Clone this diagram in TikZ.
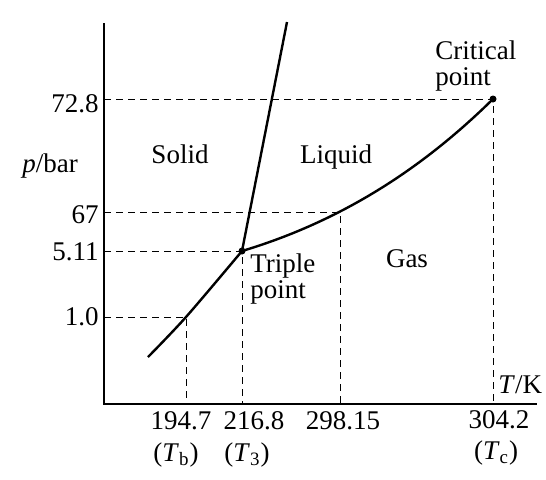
\documentclass[tikz,border=0pt]{standalone}
\usepackage{fontspec}
\setmainfont{Liberation Serif}
\usepackage{tikz}
\usetikzlibrary{positioning}

\begin{document}
\begin{tikzpicture}[
    x=0.5pt,y=-0.5pt,
    axis/.style={line width=0.7pt},
    curve/.style={line width=1.2pt},
    guide/.style={line width=0.5pt,dash pattern=on 3.5pt off 2.5pt},
    lbl/.style={inner sep=0pt,font=\fontsize{13.5}{13}\selectfont},
    dot/.style={circle,fill,inner sep=0pt,minimum size=3.5pt}
  ]
    \useasboundingbox (0,0) rectangle (546,479);
    % axes
    \coordinate (o) at (104,404);
    \coordinate (ytop) at (104,23);
    \coordinate (xend) at (537,404);
    \draw[axis] (ytop) -- (o) -- (xend);
    % points on the phase boundaries
    \coordinate (sb) at (148,357);
    \coordinate (tb) at (186,317);
    \coordinate (tp) at (242,251);
    \coordinate (mt) at (287,22);
    \coordinate (lq) at (340,212);
    \coordinate (cp) at (493,99);
    % guide lines
    \draw[guide] (tb -| o) -- (tb) -- (tb |- o);
    \draw[guide] (tp -| o) -- (tp) -- (tp |- o);
    \draw[guide] (lq -| o) -- (lq) -- (lq |- o);
    \draw[guide] (cp -| o) -- (cp) -- (cp |- o);
    % phase boundaries
    \draw[curve] plot[smooth] coordinates {(sb) (tb) (tp)};
    \draw[curve] (tp) -- (mt);
    \draw[curve] (tp) .. controls (342,221) and (423,168) .. (cp);
    \node[dot] (tpdot) at (tp) {};
    \node[dot] (cpdot) at (cp) {};
    % pressure labels
    \node[lbl,anchor=east] (p1) at (99,104) {72.8};
    \node[lbl,anchor=east] (p2) at (99,215) {67};
    \node[lbl,anchor=east] (p3) at (99,252) {5.11};
    \node[lbl,anchor=east] (p4) at (99,317) {1.0};
    \node[lbl,anchor=base] (pax) at (50,172) {\textit{p}/bar};
    % temperature labels
    \node[lbl,anchor=base] (t1) at (181,429) {194.7};
    \node[lbl,anchor=base] (t2) at (254,429) {216.8};
    \node[lbl,anchor=base] (t3) at (343,429) {298.15};
    \node[lbl,anchor=base] (t4) at (499,428) {304.2};
    \node[lbl,anchor=base] (s1) at (176,461) {(\textit{T}\textsubscript{b})};
    \node[lbl,anchor=base] (s2) at (247,461) {(\textit{T}\textsubscript{3})};
    \node[lbl,anchor=base] (s4) at (496,459) {(\textit{T}\textsubscript{c})};
    \node[lbl,anchor=base west] (tax) at (498,393) {\textit{T}/K};
    % phase regions
    \node[lbl,anchor=base] (solid) at (180,163) {Solid};
    \node[lbl,anchor=base] (liquid) at (336,163) {Liquid};
    \node[lbl,anchor=base] (gas) at (407,267) {Gas};
    \node[lbl,anchor=base west,align=left] (tptxt) at (250,298) {Triple\\point};
    \node[lbl,anchor=base west,align=left] (cptxt) at (435,85) {Critical\\point};
  \end{tikzpicture}
\end{document}
